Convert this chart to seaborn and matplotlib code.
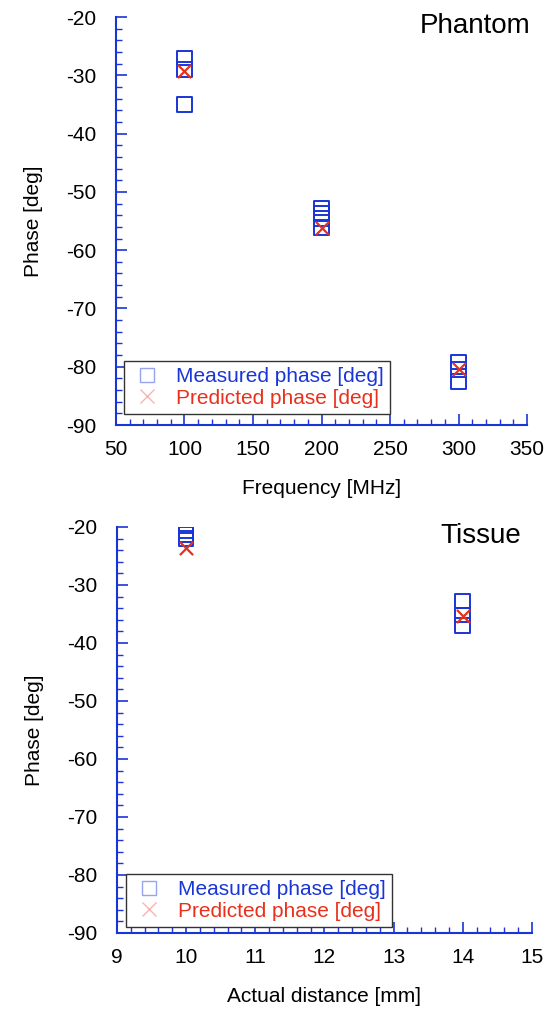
#!/usr/bin/env python3
import numpy as np
import pandas as pd
import seaborn as sns
import matplotlib.pyplot as plt
from matplotlib.lines import Line2D
from matplotlib.ticker import MultipleLocator

sns.set_theme(style="white")
plt.rcParams['font.family'] = ['Liberation Sans', 'DejaVu Sans']
plt.rcParams['axes.unicode_minus'] = False
plt.rcParams['text.color'] = 'black'
plt.rcParams['axes.labelcolor'] = 'black'

BLUE = "#1a35d6"
RED = "#e8301c"

# Phantom
freq_meas = [100, 100, 100, 200, 200, 200, 200, 300, 300, 300]
phase_meas = [-27, -29, -35, -52.8, -53.6, -54.6, -56.2, -79.2, -80.5, -82.5]
freq_pred = [100, 200, 300]
phase_pred = [-29.3, -56.2, -80.3]

# Tissue
dist_meas = [10, 10, 10, 10, 14, 14, 14]
tphase_meas = [-19.8, -20.6, -21.3, -22.0, -32.8, -35.2, -37.0]
dist_pred = [10, 14]
tphase_pred = [-23.6, -35.3]

fig = plt.figure(figsize=(5.51, 10.13), dpi=100)
ax1 = fig.add_axes([0.2105, 0.5804, 0.746, 0.4028])
ax2 = fig.add_axes([0.2123, 0.0790, 0.753, 0.4008])


def draw(ax, xm, ym, xp, yp, xlim, xmaj, xmin, xlabel, title, title_x, leg_anchor):
    dm = pd.DataFrame({"x": xm, "y": ym})
    dp = pd.DataFrame({"x": xp, "y": yp})
    sns.scatterplot(data=dm, x="x", y="y", ax=ax, marker="s", s=110,
                    facecolors="none", edgecolor=BLUE, linewidth=1.4, zorder=3)
    sns.scatterplot(data=dp, x="x", y="y", ax=ax, marker="x", s=90,
                    color=RED, linewidth=1.6, zorder=4)
    ax.set_xlim(*xlim)
    ax.set_ylim(-90, -20)
    ax.xaxis.set_major_locator(MultipleLocator(xmaj))
    ax.xaxis.set_minor_locator(MultipleLocator(xmin))
    ax.yaxis.set_major_locator(MultipleLocator(10))
    ax.yaxis.set_minor_locator(MultipleLocator(2))
    for side in ["top", "right"]:
        ax.spines[side].set_visible(False)
    for side in ["left", "bottom"]:
        ax.spines[side].set_color(BLUE)
        ax.spines[side].set_linewidth(1.5)
    ax.tick_params(which="major", direction="in", length=8, width=1.2,
                   color=BLUE, labelsize=15, labelcolor="black",
                   left=True, bottom=True)
    ax.tick_params(axis="y", which="major", pad=14)
    ax.tick_params(axis="x", which="major", pad=11)
    ax.tick_params(which="minor", direction="in", length=4, width=1.0,
                   color=BLUE, left=True, bottom=True)
    ax.set_xlabel(xlabel, fontsize=15, labelpad=14)
    ax.set_ylabel("Phase [deg]", fontsize=15, labelpad=17)
    ax.text(title_x, 1.01, title, transform=ax.transAxes, ha="right", va="top",
            fontsize=20)
    handles = [
        Line2D([], [], linestyle="none", marker="s", markersize=10,
               markerfacecolor="none", markeredgecolor=BLUE, alpha=0.45),
        Line2D([], [], linestyle="none", marker="x", markersize=10,
               color=RED, alpha=0.35),
    ]
    leg = ax.legend(handles, ["Measured phase [deg]", "Predicted phase [deg]"],
                    loc="lower left", bbox_to_anchor=leg_anchor, fontsize=15,
                    borderaxespad=0, frameon=True, fancybox=False, framealpha=1,
                    edgecolor="#333333", handletextpad=0.6, borderpad=0.3,
                    labelspacing=0.12, handlelength=1.6)
    leg.get_frame().set_linewidth(1.0)
    for t, c in zip(leg.get_texts(), [BLUE, RED]):
        t.set_color(c)


draw(ax1, freq_meas, phase_meas, freq_pred, phase_pred, (50, 350), 50, 10,
     "Frequency [MHz]", "Phantom", 1.008, (0.0195, 0.027))
draw(ax2, dist_meas, tphase_meas, dist_pred, tphase_pred, (9, 15), 1, 0.2,
     "Actual distance [mm]", "Tissue", 0.975, (0.022, 0.015))

fig.savefig("out.png", dpi=100)
